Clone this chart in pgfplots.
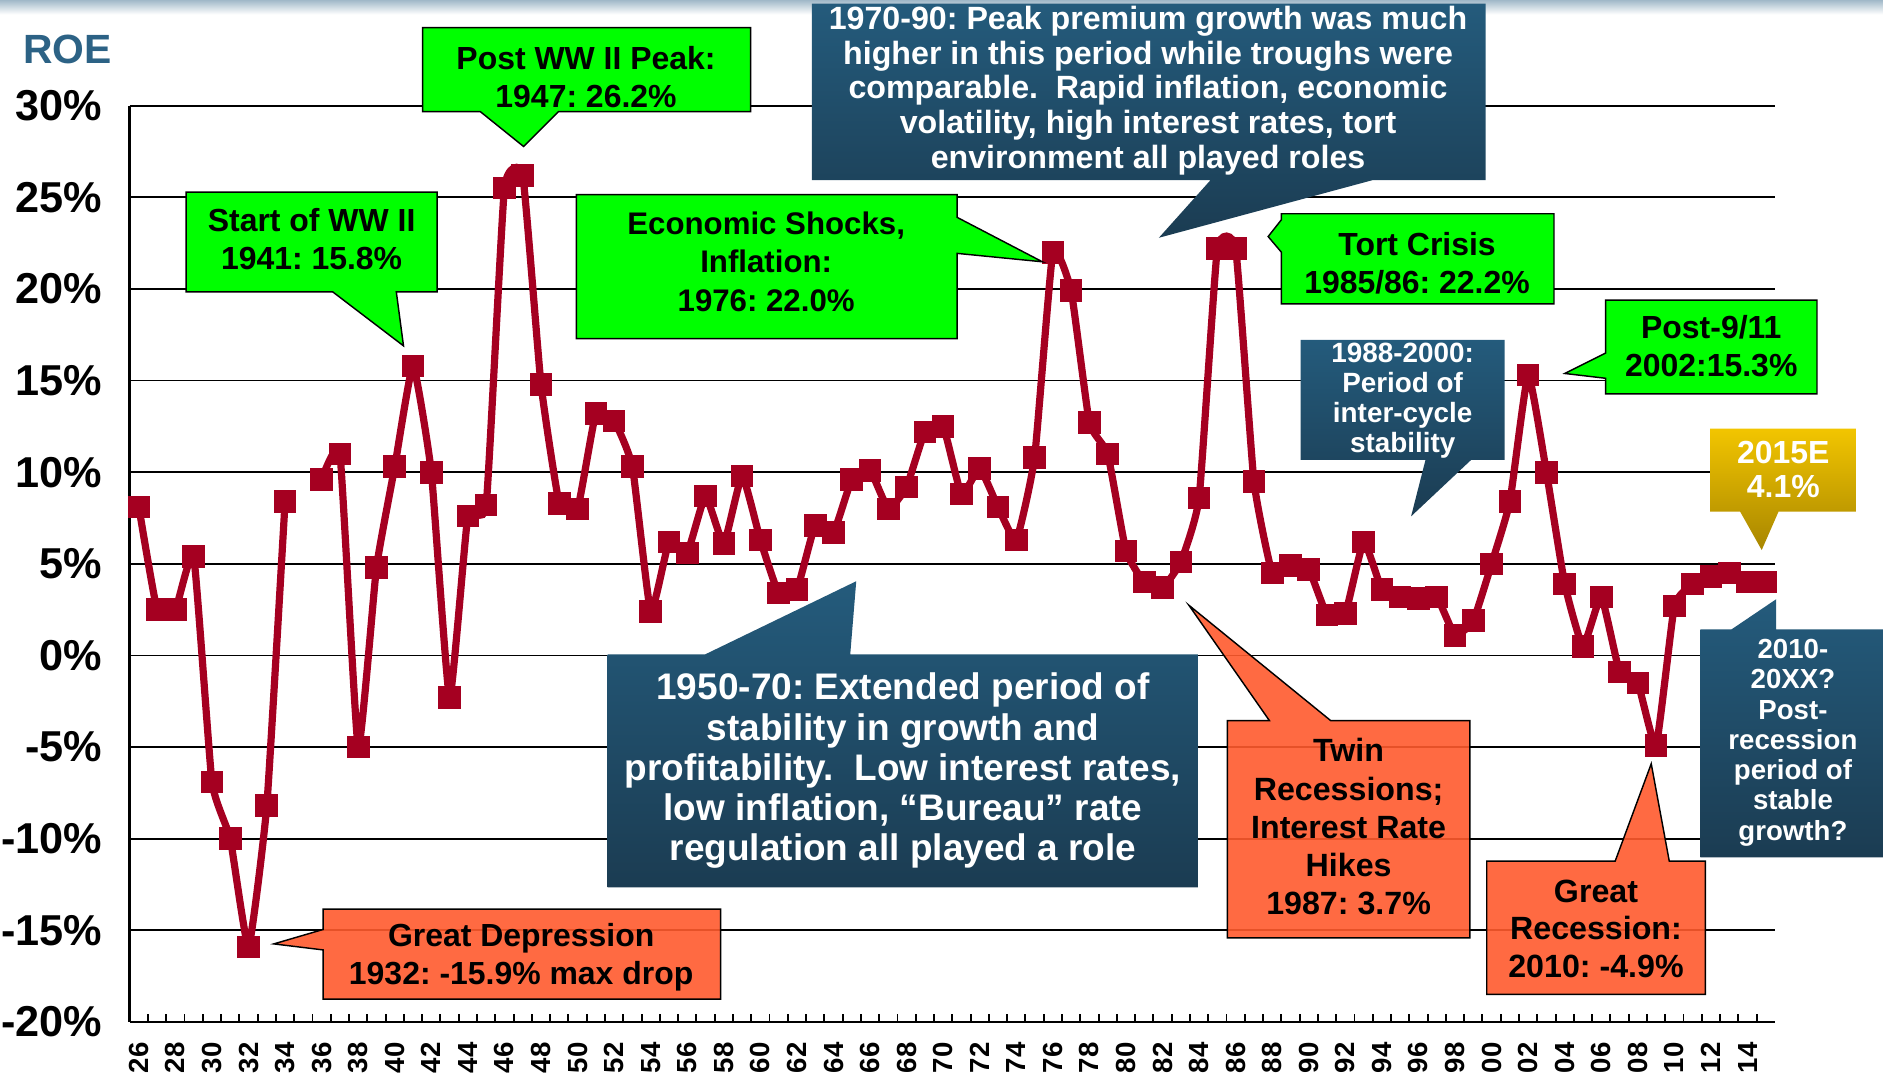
\documentclass[border=0pt]{standalone}
\usepackage{fontspec}
\setmainfont{Liberation Sans}
\usepackage{pgfplots}
\usepackage{pgfplotstable}
\pgfplotsset{compat=1.18}
\frenchspacing
\definecolor{roeline}{HTML}{A50021}
\definecolor{boxgreen}{HTML}{00FF00}
\definecolor{boxorange}{HTML}{FF5A2D}
\definecolor{bluetop}{HTML}{245B7C}
\definecolor{bluebot}{HTML}{1B3C52}
\definecolor{goldtop}{HTML}{F2C500}
\definecolor{goldbot}{HTML}{A88600}
\definecolor{roeblue}{HTML}{2C6285}

\pgfplotstableread{
year roe
1926 8.1
1927 2.5
1928 2.5
1929 5.4
1930 -6.9
1931 -10.0
1932 -15.9
1933 -8.2
1934 8.4
}\dataA
\pgfplotstableread{
year roe
1936 9.6
1937 11.0
1938 -5.0
1939 4.8
1940 10.3
1941 15.8
1942 10.0
1943 -2.3
1944 7.6
1945 8.2
1946 25.5
1947 26.2
1948 14.8
1949 8.3
1950 8.0
1951 13.2
1952 12.8
1953 10.3
1954 2.4
1955 6.2
1956 5.6
1957 8.7
1958 6.1
1959 9.8
1960 6.3
1961 3.4
1962 3.6
1963 7.1
1964 6.7
1965 9.6
1966 10.1
1967 8.0
1968 9.2
1969 12.2
1970 12.5
1971 8.8
1972 10.2
1973 8.1
1974 6.3
1975 10.8
1976 22.0
1977 19.9
1978 12.7
1979 11.0
1980 5.7
1981 4.0
1982 3.7
1983 5.1
1984 8.6
1985 22.2
1986 22.2
1987 9.5
1988 4.5
1989 4.9
1990 4.7
1991 2.2
1992 2.3
1993 6.2
1994 3.6
1995 3.2
1996 3.1
1997 3.2
1998 1.1
1999 1.9
2000 5.0
2001 8.4
2002 15.3
2003 10.0
2004 3.9
2005 0.5
2006 3.2
2007 -0.9
2008 -1.5
2009 -4.9
2010 2.7
2011 3.9
2012 4.3
2013 4.5
2014 4.0
2015 4.0
}\dataB

\begin{document}
\begin{tikzpicture}
\useasboundingbox (0,0) rectangle (784pt,450pt);
% faint header band
\shade[top color=roeblue!45, bottom color=white] (0,450pt) rectangle (784pt,444pt);
\begin{axis}[
  at={(54pt,24.5pt)}, anchor=south west,
  scale only axis, width=685pt, height=381.5pt,
  xmin=1925.5, xmax=2015.5, ymin=-20, ymax=30,
  clip=false,
  axis x line*=bottom, axis y line*=left,
  axis line style={-, black, line width=1pt},
  ytick={-20,-15,...,30},
  yticklabels={-20\%,-15\%,-10\%,-5\%,0\%,5\%,10\%,15\%,20\%,25\%,30\%},
  ymajorgrids, grid style={black, line width=0.75pt},
  xtick={1926,1928,...,2014},
  xticklabels={26,28,30,32,34,36,38,40,42,44,46,48,50,52,54,56,58,60,62,64,66,68,70,72,74,76,78,80,82,84,86,88,90,92,94,96,98,00,02,04,06,08,10,12,14},
  minor xtick={1926.5,1927.5,...,2014.5},
  major tick length=0pt, minor tick length=3.3pt, tick align=inside,
  minor tick style={black, line width=0.8pt},
  x tick label style={yshift=-5pt, rotate=90, anchor=east, font=\bfseries\fontsize{11.5}{11.5}\selectfont},
  y tick label style={xshift=-8pt, font=\bfseries\fontsize{18}{19}\selectfont},
]
\addplot[roeline, line width=3pt, smooth, tension=0.25, mark=square*, mark size=4.5pt,
  mark options={solid, fill=roeline, draw=roeline, line width=0pt}] table[x=year,y=roe] {\dataA};
\addplot[roeline, line width=3pt, smooth, tension=0.25, mark=square*, mark size=4.5pt,
  mark options={solid, fill=roeline, draw=roeline, line width=0pt}] table[x=year,y=roe] {\dataB};
\end{axis}

\begin{scope}[shift={(0,450pt)}, x=0.5pt, y=-0.5pt]
\tikzset{gbox/.style={fill=boxgreen, draw=black, line width=0.6pt},
  obox/.style={fill=boxorange, fill opacity=0.9, draw=black, line width=0.6pt},
  bbox/.style={top color=bluetop, bottom color=bluebot, draw=none},
  t13/.style={align=center, font=\bfseries\fontsize{13.3}{16}\selectfont}}
% ROE
\node[font=\bfseries\fontsize{17}{17}\selectfont, text=roeblue] at (56,41) {ROE};
% Post WW II
\path[gbox] (352,23) -- (625,23) -- (625,93) -- (465,93) -- (436,122) -- (400,93) -- (352,93) -- cycle;
\node[t13] at (488,64) {Post WW II Peak:\\1947: 26.2\%};
% Start of WW II
\path[gbox] (155,160) -- (364,160) -- (364,243) -- (330,243) -- (336,288) -- (277,243) -- (155,243) -- cycle;
\node[t13] at (259.5,199) {Start of WW II\\1941: 15.8\%};
% Economic shocks
\path[gbox] (480,162) -- (797,162) -- (797,181) -- (868,218) -- (797,211) -- (797,282) -- (480,282) -- cycle;
\node[align=center, font=\bfseries\fontsize{13}{16}\selectfont] at (638,218) {Economic Shocks,\\Inflation:\\1976: 22.0\%};
% 1970-90
\path[bbox] (676,3) -- (1237,3) -- (1237,150) -- (1143,150) -- (965,198) -- (1008,150) -- (676,150) -- cycle;
\node[align=center, text=white, font=\bfseries\fontsize{13.4}{14.4}\selectfont] at (956,75.5) {1970-90: Peak premium growth was much\\higher in this period while troughs were\\comparable.~ Rapid inflation, economic\\volatility, high interest rates, tort\\environment all played roles};
% Tort crisis
\path[gbox] (1067,178) -- (1294,178) -- (1294,253) -- (1067,253) -- (1067,210) -- (1056,197) -- (1067,183) -- cycle;
\node[t13] at (1180,219) {Tort Crisis\\1985/86: 22.2\%};
% 1988-2000
\path[bbox] (1083,283) -- (1253,283) -- (1253,383) -- (1225,383) -- (1175,430) -- (1187,383) -- (1083,383) -- cycle;
\node[align=center, text=white, font=\bfseries\fontsize{11.6}{12.5}\selectfont] at (1168,333.5) {1988-2000:\\Period of\\inter-cycle\\stability};
% Post-9/11
\path[gbox] (1337,250) -- (1513,250) -- (1513,328) -- (1337,328) -- (1337,315) -- (1303,311) -- (1337,294) -- cycle;
\node[t13] at (1425,288) {Post-9/11\\2002:15.3\%};
% 2015E
\path[top color=goldtop, bottom color=goldbot, draw=none] (1424,357) -- (1546,357) -- (1546,426) -- (1481,426) -- (1467,458) -- (1449,426) -- (1424,426) -- cycle;
\node[align=center, text=white, font=\bfseries\fontsize{13.3}{14}\selectfont] at (1485,391) {2015E\\4.1\%};
% 2010-20XX
\path[bbox] (1416,524) -- (1442,524) -- (1479,499) -- (1479,524) -- (1570,524) -- (1570,714) -- (1416,714) -- cycle;
\node[align=center, text=white, font=\bfseries\fontsize{11.5}{12.6}\selectfont] at (1493,618.5) {2010-\\20XX?\\Post-\\recession\\period of\\stable\\growth?};
% 1950-70
\path[bbox] (506,545) -- (587,545) -- (713,484) -- (708,545) -- (998,545) -- (998,739) -- (506,739) -- cycle;
\node[align=center, text=white, font=\bfseries\fontsize{15.4}{16.75}\selectfont] at (752,642) {1950-70: Extended period of\\stability in growth and\\profitability.~ Low interest rates,\\low inflation, “Bureau” rate\\regulation all played a role};
% Twin recessions
\path[obox] (1022,600) -- (1057,600) -- (990,504) -- (1108,600) -- (1224,600) -- (1224,781) -- (1022,781) -- cycle;
\node[align=center, font=\bfseries\fontsize{13.4}{15.9}\selectfont] at (1123,688.5) {Twin\\Recessions;\\Interest Rate\\Hikes\\1987: 3.7\%};
% Great Recession
\path[obox] (1238,717) -- (1345,717) -- (1375,636) -- (1390,717) -- (1420,717) -- (1420,828) -- (1238,828) -- cycle;
\node[align=center, font=\bfseries\fontsize{13.4}{15.75}\selectfont] at (1329,773.5) {Great\\Recession:\\2010: -4.9\%};
% Great Depression
\path[obox] (269,757) -- (600,757) -- (600,832) -- (269,832) -- (269,791) -- (228,786) -- (269,774) -- cycle;
\node[t13] at (434,797) {Great Depression\\1932: -15.9\% max drop};
\end{scope}
\end{tikzpicture}
\end{document}
